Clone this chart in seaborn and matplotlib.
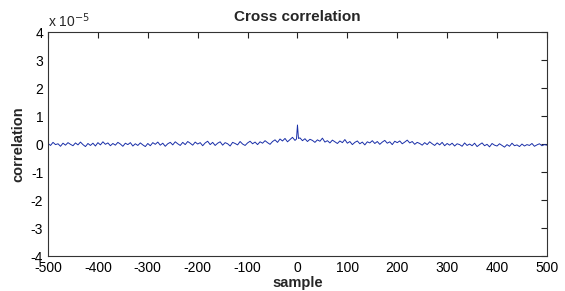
import numpy as np
import pandas as pd
import matplotlib
matplotlib.use("Agg")
import matplotlib.pyplot as plt
import seaborn as sns

# lags -500..500 (step 5, plus a couple around the peak)
lags = list(range(-500, -4, 5)) + [-2, 0, 2] + list(range(5, 501, 5))
# correlation values read in units of 1e-5
corr_e5 = [
    0.02, -0.05, 0.06, -0.02, 0.01, -0.08, 0.03, -0.04, 0.05, -0.01,
    -0.06, 0.04, -0.03, 0.07, -0.02, -0.09, 0.02, -0.05, 0.03, -0.07,
    0.05, -0.03, 0.08, -0.01, 0.04, -0.06, 0.02, -0.04, 0.06, 0.00,
    -0.08, 0.03, -0.02, 0.05, -0.07, 0.01, -0.05, 0.04, -0.03, -0.09,
    0.02, -0.06, 0.05, -0.01, 0.07, -0.04, 0.03, -0.08, 0.01, 0.06,
    -0.03, 0.08, 0.01, -0.05, 0.06, -0.02, 0.09, 0.03, -0.04, 0.07,
    0.00, 0.05, -0.06, 0.04, 0.10, -0.02, 0.06, -0.05, 0.03, 0.08,
    -0.04, 0.05, 0.01, -0.07, 0.06, 0.02, -0.03, 0.09, 0.00, -0.05,
    0.04, 0.10, 0.01, 0.07, -0.02, 0.08, 0.03, 0.12, 0.05, -0.01,
    0.09, 0.15, 0.06, 0.18, 0.11, 0.20, 0.08, 0.16, 0.24, 0.13,
    0.18, 0.68, 0.20,
    0.22, 0.12, 0.19, 0.09, 0.17, 0.13, 0.06, 0.15, 0.10, 0.21,
    0.07, 0.12, 0.04, 0.14, 0.08, 0.02, 0.11, 0.05, 0.16, 0.03,
    0.09, -0.02, 0.06, 0.11, 0.01, 0.07, -0.03, 0.08, 0.04, 0.12,
    0.02, 0.09, -0.01, 0.07, 0.13, 0.03, 0.08, -0.02, 0.10, 0.05,
    0.11, 0.01, 0.07, 0.14, 0.04, 0.09, -0.01, 0.06, 0.02, -0.04,
    0.05, -0.02, 0.08, 0.01, -0.05, 0.04, -0.03, 0.06, -0.06, 0.02,
    -0.04, 0.03, -0.07, 0.01, -0.02, -0.08, 0.04, -0.05, 0.00, -0.06,
    0.03, -0.09, -0.02, 0.04, -0.06, -0.01, -0.10, 0.02, -0.04, -0.07,
    0.01, -0.05, -0.11, -0.02, -0.08, 0.03, -0.06, -0.03, -0.09, 0.00,
    -0.07, -0.02, -0.05, 0.02, -0.08, -0.03, 0.01, -0.06, -0.02, -0.04,
]

df = pd.DataFrame({"sample": lags, "correlation": np.array(corr_e5) * 1e-5})

sns.set_style("white")
plt.rcParams["font.family"] = ["Liberation Sans", "DejaVu Sans"]
plt.rcParams["axes.unicode_minus"] = False

fig = plt.figure(figsize=(5.65, 2.91), dpi=100)
ax = fig.add_axes([0.085, 0.12, 0.883, 0.77])

sns.lineplot(data=df, x="sample", y="correlation", color="#1a2fa8", linewidth=0.7, ax=ax)

ax.set_xlim(-500, 500)
ax.set_ylim(-4e-5, 4e-5)
ax.set_xticks(np.arange(-500, 501, 100))
ax.set_yticks(np.arange(-4, 5, 1) * 1e-5)
ax.set_yticklabels([str(v) for v in range(-4, 5)])
ax.tick_params(direction="in", top=True, right=True, length=4, width=0.8,
               labelsize=10, colors="#222222", labelcolor="black")
for s in ax.spines.values():
    s.set_color("#333333")
    s.set_linewidth(0.8)

ax.set_title("Cross correlation", fontsize=11, fontweight="bold", pad=8)
ax.set_xlabel("sample", fontsize=10.5, fontweight="bold", labelpad=1)
ax.set_ylabel("correlation", fontsize=10.5, fontweight="bold", labelpad=4)
ax.text(0.0, 1.01, r"x 10$^{-5}$", transform=ax.transAxes, fontsize=10,
        ha="left", va="bottom")

fig.savefig("out.png", dpi=100)
